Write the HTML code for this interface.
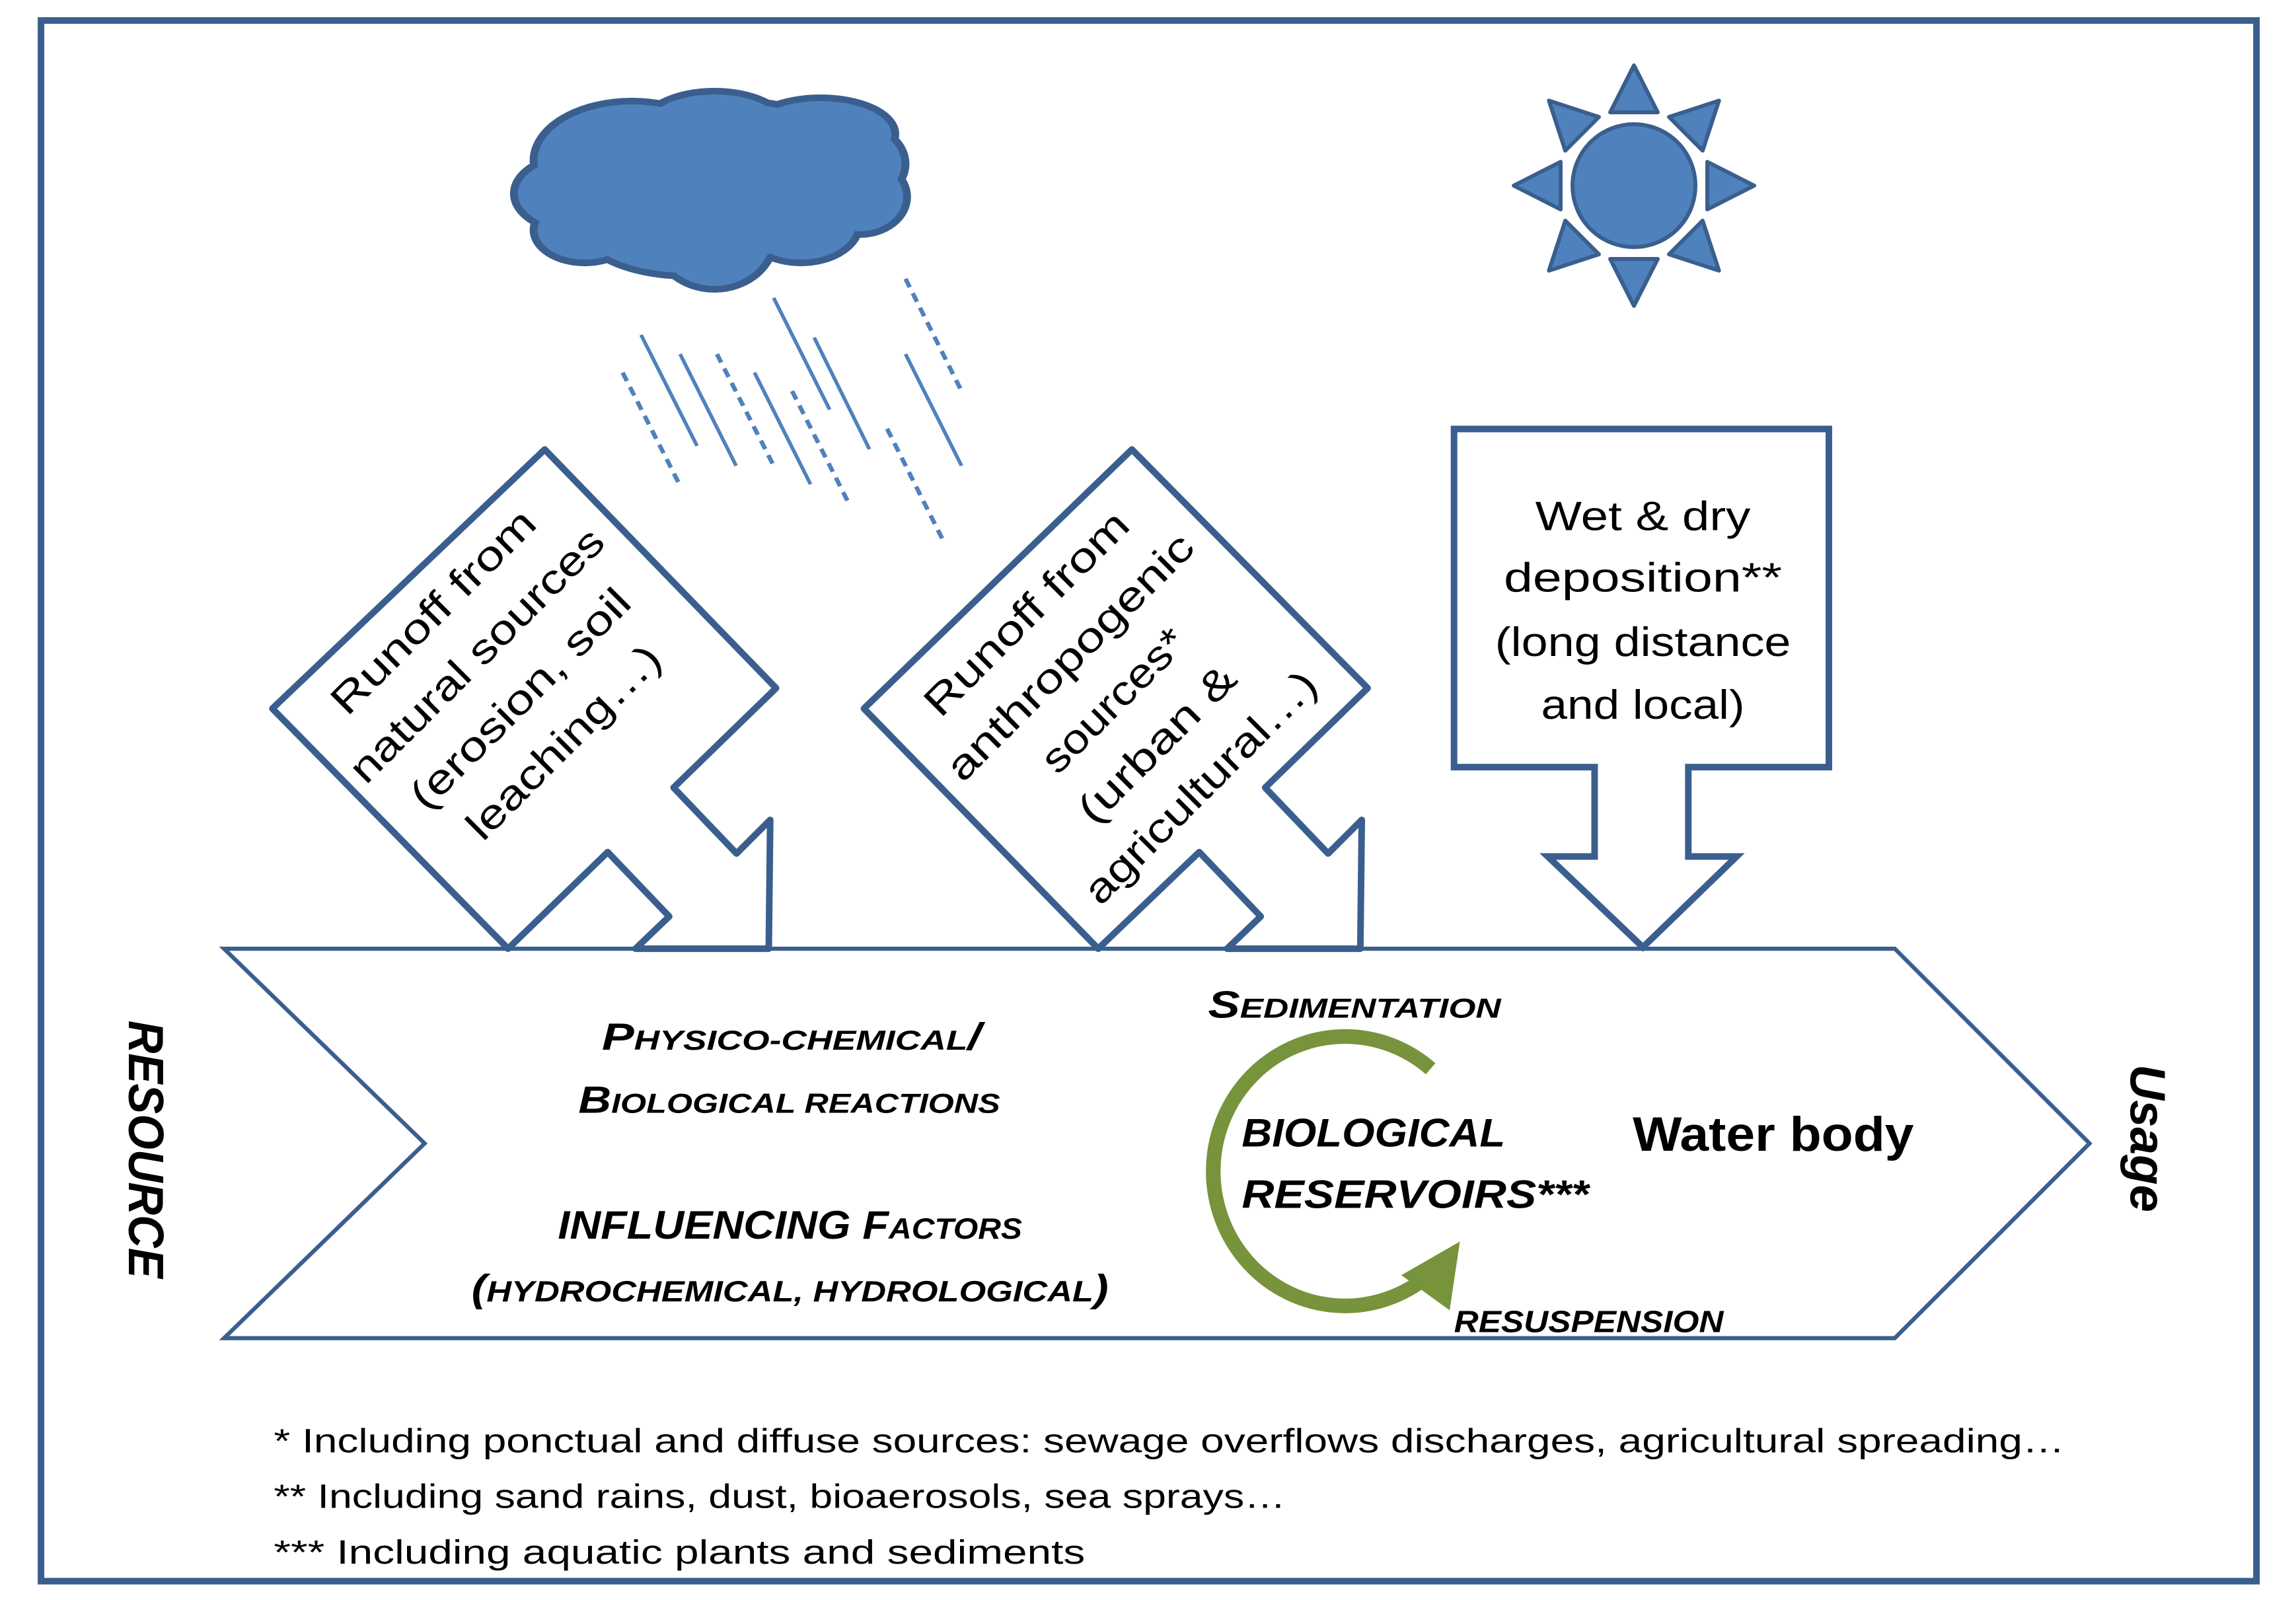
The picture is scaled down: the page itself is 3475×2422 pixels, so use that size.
<!DOCTYPE html>
<html><head><meta charset="utf-8"><style>
html,body{margin:0;padding:0;background:#fff;}
svg{display:block;}
text{font-family:"Liberation Sans",sans-serif;fill:#000;}
</style></head><body>
<svg width="3475" height="2422" viewBox="0 0 3475 2422" xmlns="http://www.w3.org/2000/svg">
<rect width="3475" height="2422" fill="#fff"/>
<!-- cloud -->
<g transform="translate(760,8) scale(1.19,1) translate(-760,0)">
<g stroke="#3a5f8e" stroke-width="20" fill="#4f81bd">
<ellipse cx="860" cy="285" rx="80" ry="55"/>
<ellipse cx="865" cy="340" rx="60" ry="45"/>
<ellipse cx="925" cy="235" rx="120" ry="85"/>
<ellipse cx="995" cy="335" rx="130" ry="70"/>
<ellipse cx="1030" cy="190" rx="90" ry="55"/>
<ellipse cx="1085" cy="210" rx="75" ry="58"/>
<ellipse cx="1165" cy="195" rx="90" ry="50"/>
<ellipse cx="1210" cy="240" rx="58" ry="55"/>
<ellipse cx="1215" cy="290" rx="55" ry="52"/>
<ellipse cx="1140" cy="330" rx="70" ry="55"/>
<ellipse cx="1030" cy="350" rx="72" ry="75"/>
</g>
<g fill="#4f81bd">
<ellipse cx="860" cy="285" rx="80" ry="55"/>
<ellipse cx="865" cy="340" rx="60" ry="45"/>
<ellipse cx="925" cy="235" rx="120" ry="85"/>
<ellipse cx="995" cy="335" rx="130" ry="70"/>
<ellipse cx="1030" cy="190" rx="90" ry="55"/>
<ellipse cx="1085" cy="210" rx="75" ry="58"/>
<ellipse cx="1165" cy="195" rx="90" ry="50"/>
<ellipse cx="1210" cy="240" rx="58" ry="55"/>
<ellipse cx="1215" cy="290" rx="55" ry="52"/>
<ellipse cx="1140" cy="330" rx="70" ry="55"/>
<ellipse cx="1030" cy="350" rx="72" ry="75"/>
<ellipse cx="1030" cy="280" rx="180" ry="100"/>
</g>
</g>
<!-- rain -->
<g transform="translate(900,0) scale(1.115,1) translate(-900,0)">
<g stroke="#4f81bd" stroke-width="5">
<line x1="963" y1="507" x2="1039" y2="675"/>
<line x1="1016" y1="536" x2="1092" y2="705"/>
<line x1="1117" y1="564" x2="1193" y2="733"/>
<line x1="1143" y1="451" x2="1219" y2="620"/>
<line x1="1198" y1="511" x2="1273" y2="680"/>
<line x1="1322" y1="536" x2="1398" y2="705"/>
</g>
<g stroke="#4f81bd" stroke-width="6" stroke-dasharray="14,10">
<line x1="938" y1="564" x2="1015" y2="733"/>
<line x1="1066" y1="536" x2="1143" y2="705"/>
<line x1="1168" y1="592" x2="1245" y2="762"/>
<line x1="1297" y1="649" x2="1373" y2="818"/>
<line x1="1322" y1="422" x2="1398" y2="592"/>
</g>
</g>
<!-- sun -->
<g fill="#4f81bd" stroke="#3a5f8e" stroke-width="6" stroke-linejoin="round">
<circle cx="2473" cy="281" r="93"/>
<g transform="translate(2473,281)">
<polygon points="0,-182 -36,-111 36,-111"/>
<polygon points="0,-182 -36,-111 36,-111" transform="rotate(45)"/>
<polygon points="0,-182 -36,-111 36,-111" transform="rotate(90)"/>
<polygon points="0,-182 -36,-111 36,-111" transform="rotate(135)"/>
<polygon points="0,-182 -36,-111 36,-111" transform="rotate(180)"/>
<polygon points="0,-182 -36,-111 36,-111" transform="rotate(225)"/>
<polygon points="0,-182 -36,-111 36,-111" transform="rotate(270)"/>
<polygon points="0,-182 -36,-111 36,-111" transform="rotate(315)"/>
</g>
</g>
<g transform="scale(2.2162)">
<rect x="28" y="14" width="1513" height="1066" fill="none" stroke="#3a5f8e" stroke-width="4.5"/>
<!-- main arrow -->
<polygon points="153,648 1294,648 1427,781 1294,914 153,914 290,781" fill="#fff" stroke="#3a5f8e" stroke-width="2.8"/>
<!-- box 1 -->
<polygon points="186,484 372,307 530,470 460,538 503,583 526,560 525,648 434,648 457,626 415,582 347,648" fill="#fff" stroke="#3a5f8e" stroke-width="4.5" stroke-linejoin="round"/>
<!-- box 2 -->
<polygon points="590,484 773,307 934,470 864,538 907,583 930,560 929,648 838,648 861,626 819,582 750,648" fill="#fff" stroke="#3a5f8e" stroke-width="4.5" stroke-linejoin="round"/>
<!-- box 3 -->
<polygon points="993,293 1249,293 1249,524 1153,524 1153,585 1186,585 1122,647 1057,585 1089,585 1089,524 993,524" fill="#fff" stroke="#3a5f8e" stroke-width="4.5" stroke-linejoin="miter"/>
<!-- green arc -->
<path d="M977,730 A90,92 0 1 0 972,874" fill="none" stroke="#77933c" stroke-width="10"/>
<polygon points="997,848 957,871 990,895" fill="#77933c"/>
<!-- box texts -->
<g font-size="28" text-anchor="middle">
<g transform="translate(340,462) rotate(-45)">
<text x="0" y="-53" textLength="185" lengthAdjust="spacingAndGlyphs">Runoff from</text>
<text x="0" y="-11" textLength="233" lengthAdjust="spacingAndGlyphs">natural sources</text>
<text x="0" y="31" textLength="200" lengthAdjust="spacingAndGlyphs">(erosion, soil</text>
<text x="0" y="73" textLength="175" lengthAdjust="spacingAndGlyphs">leaching…)</text>
</g>
<g transform="translate(760,478) rotate(-45)">
<text x="0" y="-74" textLength="185" lengthAdjust="spacingAndGlyphs">Runoff from</text>
<text x="0" y="-32" textLength="226" lengthAdjust="spacingAndGlyphs">anthropogenic</text>
<text x="0" y="10" textLength="127" lengthAdjust="spacingAndGlyphs">sources*</text>
<text x="0" y="52" textLength="140" lengthAdjust="spacingAndGlyphs">(urban &amp;</text>
<text x="0" y="94" textLength="212" lengthAdjust="spacingAndGlyphs">agricultural…)</text>
</g>
<text x="1122" y="362" textLength="147" lengthAdjust="spacingAndGlyphs">Wet &amp; dry</text>
<text x="1122" y="404" textLength="190" lengthAdjust="spacingAndGlyphs">deposition**</text>
<text x="1122" y="448" textLength="202" lengthAdjust="spacingAndGlyphs">(long distance</text>
<text x="1122" y="491" textLength="139" lengthAdjust="spacingAndGlyphs">and local)</text>
</g>
<!-- arrow texts -->
<g font-weight="bold" font-style="italic">
<text x="411" y="717" font-size="26" textLength="259" lengthAdjust="spacingAndGlyphs">P<tspan font-size="19">HYSICO-CHEMICAL</tspan>/</text>
<text x="395" y="760" font-size="26" textLength="288" lengthAdjust="spacingAndGlyphs">B<tspan font-size="19">IOLOGICAL REACTIONS</tspan></text>
<text x="381" y="846" font-size="27" textLength="317" lengthAdjust="spacingAndGlyphs">INFLUENCING F<tspan font-size="20">ACTORS</tspan></text>
<text x="322" y="889" font-size="26" textLength="435" lengthAdjust="spacingAndGlyphs">(<tspan font-size="20">HYDROCHEMICAL, HYDROLOGICAL</tspan>)</text>
<text x="825" y="695" font-size="26" textLength="200" lengthAdjust="spacingAndGlyphs">S<tspan font-size="19">EDIMENTATION</tspan></text>
<text x="848" y="783" font-size="27" textLength="180" lengthAdjust="spacingAndGlyphs">BIOLOGICAL</text>
<text x="848" y="825" font-size="27" textLength="237" lengthAdjust="spacingAndGlyphs">RESERVOIRS***</text>
<text x="993" y="910" font-size="21" textLength="184" lengthAdjust="spacingAndGlyphs">RESUSPENSION</text>
<text transform="translate(88,697) rotate(90)" font-size="34" textLength="176" lengthAdjust="spacingAndGlyphs">RESOURCE</text>
<text transform="translate(1455,727) rotate(90)" font-size="34" textLength="101" lengthAdjust="spacingAndGlyphs">Usage</text>
</g>
<text x="1115" y="786" font-size="33" font-weight="bold" textLength="192" lengthAdjust="spacingAndGlyphs">Water body</text>
<!-- footnotes -->
<g font-size="23">
<text x="187" y="992" textLength="1223" lengthAdjust="spacingAndGlyphs">* Including ponctual and diffuse sources: sewage overflows discharges,  agricultural spreading…</text>
<text x="187" y="1030" textLength="691" lengthAdjust="spacingAndGlyphs">** Including sand rains, dust, bioaerosols, sea sprays…</text>
<text x="187" y="1068" textLength="554" lengthAdjust="spacingAndGlyphs">*** Including aquatic plants and sediments</text>
</g>
</g>
</svg>
</body></html>
